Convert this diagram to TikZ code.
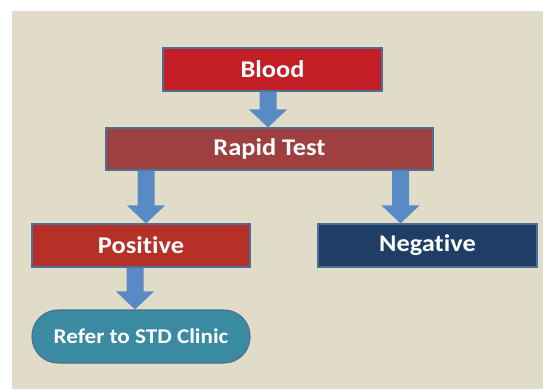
\documentclass[tikz,border=0pt]{standalone}
\usepackage{fontspec}
\setmainfont{Carlito}[FakeStretch=1.1, RawFeature=-liga]
\usetikzlibrary{calc}
\definecolor{bgc}{HTML}{E1DCC8}
\definecolor{bloodc}{HTML}{C21F27}
\definecolor{rapidc}{HTML}{9E4040}
\definecolor{posc}{HTML}{B53027}
\definecolor{negc}{HTML}{1F3E66}
\definecolor{referc}{HTML}{3A8AA1}
\definecolor{arrowc}{HTML}{5A8AC5}
\definecolor{edgec}{HTML}{4F6E96}
\tikzset{
  box/.style={draw=edgec, line width=1.1pt, inner sep=0pt, text=white,
    font=\bfseries\fontsize{24}{26}\selectfont},
  pill/.style={box, rounded corners=26pt, font=\bfseries\fontsize{21}{23}\selectfont},
  blockarrow/.style={fill=arrowc, draw=none}
}
% #1 = centre x (pt), #2 = upper node, #3 = lower node
\newcommand{\blkarrow}[3]{%
  \fill[blockarrow] let \p1=(#2.south), \p2=(#3.north) in
    (#1pt-8.5pt,\y1) -- (#1pt+8.5pt,\y1) -- (#1pt+8.5pt,\y2+18pt) --
    (#1pt+19pt,\y2+18pt) -- (#1pt,\y2) -- (#1pt-19pt,\y2+18pt) --
    (#1pt-8.5pt,\y2+18pt) -- cycle;}
\begin{document}
\begin{tikzpicture}[x=1pt,y=-1pt]
  \useasboundingbox (0,0) rectangle (543,389);
  \fill[bgc] (12,11) rectangle (543,389);
  \node[box, fill=bloodc, minimum width=219pt, minimum height=43pt] (blood) at (272.5,69.5) {Blood};
  \node[box, fill=rapidc, minimum width=327pt, minimum height=42pt] (rapid) at (269.5,149) {Rapid Test};
  \node[box, fill=posc, minimum width=218pt, minimum height=43pt] (pos) at (141,245.5) {Positive};
  \node[box, fill=negc, minimum width=219pt, minimum height=43pt] (neg) at (427.5,245.5) {Negative};
  \node[pill, fill=referc, minimum width=218pt, minimum height=53pt] (refer) at (141,336.5) {Refer to STD Clinic};
  \blkarrow{268}{blood}{rapid}
  \blkarrow{146}{rapid}{pos}
  \blkarrow{400.5}{rapid}{neg}
  \blkarrow{135}{pos}{refer}
\end{tikzpicture}
\end{document}
